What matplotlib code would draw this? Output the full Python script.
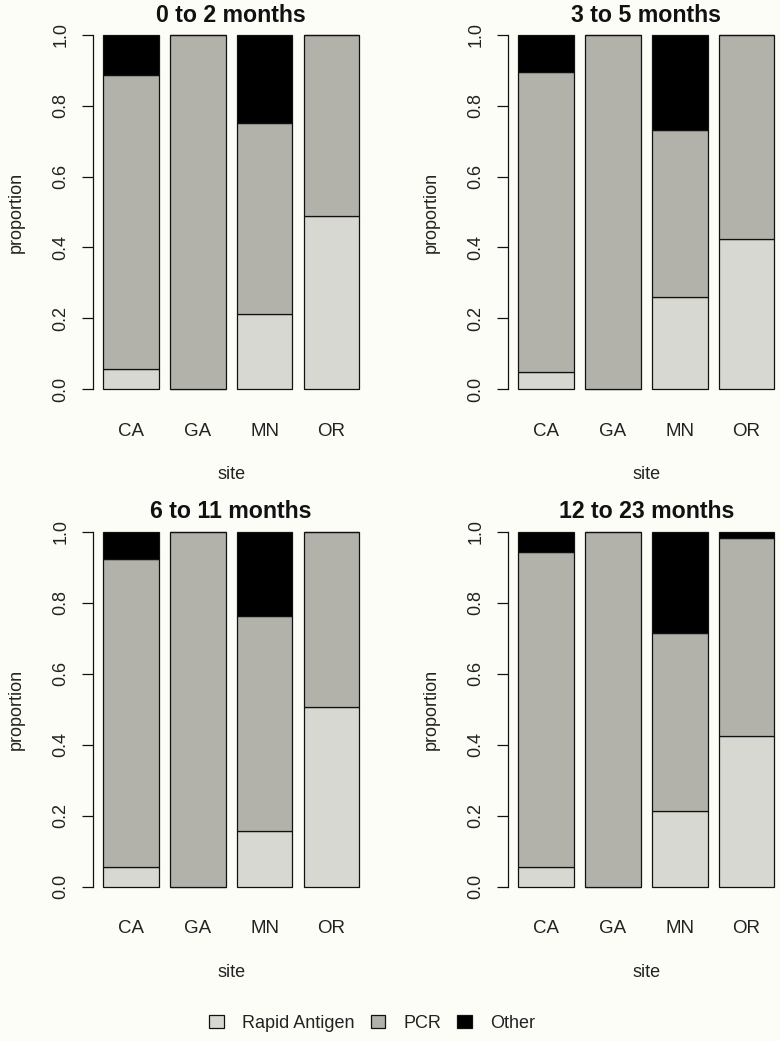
import matplotlib
matplotlib.use("Agg")
import matplotlib.pyplot as plt
from matplotlib.patches import Patch
import numpy as np

panels = ["0 to 2 months", "3 to 5 months", "6 to 11 months", "12 to 23 months"]
sites = ["CA", "GA", "MN", "OR"]
rapid = [[0.056, 0.0, 0.211, 0.489],
         [0.049, 0.0, 0.260, 0.424],
         [0.056, 0.0, 0.158, 0.507],
         [0.056, 0.0, 0.214, 0.425]]
pcr = [[0.831, 1.0, 0.541, 0.511],
       [0.847, 1.0, 0.473, 0.576],
       [0.866, 1.0, 0.605, 0.493],
       [0.887, 1.0, 0.500, 0.558]]
other = [[0.113, 0.0, 0.248, 0.0],
         [0.104, 0.0, 0.267, 0.0],
         [0.078, 0.0, 0.237, 0.0],
         [0.057, 0.0, 0.286, 0.017]]
series_names = ["Rapid Antigen", "PCR", "Other"]
yticks = [0.0, 0.2, 0.4, 0.6, 0.8, 1.0]
ytick_labels = ["0.0", "0.2", "0.4", "0.6", "0.8", "1.0"]

BG = "#FDFDF8"
COLS = ["#D8D8D3", "#B2B2AB", "#000000"]
TXT = "#222222"

plt.rcParams["font.family"] = ["Liberation Sans", "DejaVu Sans"]
W, H = 780, 1041
fig = plt.figure(figsize=(W / 100, H / 100), dpi=100, facecolor=BG)

# axes pixel boxes: (left, right, top, bottom)
boxes = [(92.9, 369.4, 20.8, 403.2),
         (508.1, 784.6, 20.8, 403.2),
         (92.9, 369.4, 517.5, 900.9),
         (508.1, 784.6, 517.5, 900.9)]

xpos = np.array([0.7, 1.9, 3.1, 4.3])
for i, (l, r, t, b) in enumerate(boxes):
    ax = fig.add_axes([l / W, 1 - b / H, (r - l) / W, (b - t) / H])
    ax.set_facecolor(BG)
    ax.patch.set_alpha(0)
    ra = np.array(rapid[i]); pc = np.array(pcr[i]); ot = np.array(other[i])
    kw = dict(width=1.0, edgecolor="#111111", linewidth=0.9)
    ax.bar(xpos, ra, color=COLS[0], **kw)
    ax.bar(xpos, pc, bottom=ra, color=COLS[1], **kw)
    ax.bar(xpos, ot, bottom=ra + pc, color=COLS[2], **kw)
    ax.set_xlim(0.016, 4.984)
    ax.set_ylim(-0.04, 1.04)
    for s in ["top", "right", "bottom"]:
        ax.spines[s].set_visible(False)
    ax.spines["left"].set_bounds(0, 1)
    ax.spines["left"].set_linewidth(0.9)
    ax.spines["left"].set_color("#111111")
    ax.set_yticks(yticks)
    ax.set_yticklabels(ytick_labels, rotation=90, va="center")
    ax.tick_params(axis="y", length=8, width=0.9, color="#111111", pad=9,
                   labelsize=13, labelcolor=TXT)
    ax.set_xticks(xpos)
    ax.set_xticklabels(sites)
    ax.tick_params(axis="x", length=0, pad=14, labelsize=13.5, labelcolor=TXT)
    ax.set_xlabel("site", fontsize=13, color=TXT, labelpad=19)
    ax.set_ylabel("proportion", fontsize=13, color=TXT, labelpad=20)
    ax.text(0.5, 1.015, panels[i], transform=ax.transAxes, ha="center",
            va="center", fontsize=16.7, fontweight="bold", color="#111111")

handles = [Patch(facecolor=COLS[k], edgecolor="#111111", linewidth=0.9) for k in range(3)]
fig.legend(handles, series_names, loc="center", bbox_to_anchor=(372 / W, 1 - 1023 / H),
           ncol=3, frameon=False, fontsize=13, handlelength=0.8, handleheight=0.7,
           handletextpad=1.0, columnspacing=0.9, labelcolor=TXT)

fig.savefig("out.png", dpi=100, facecolor=BG)
